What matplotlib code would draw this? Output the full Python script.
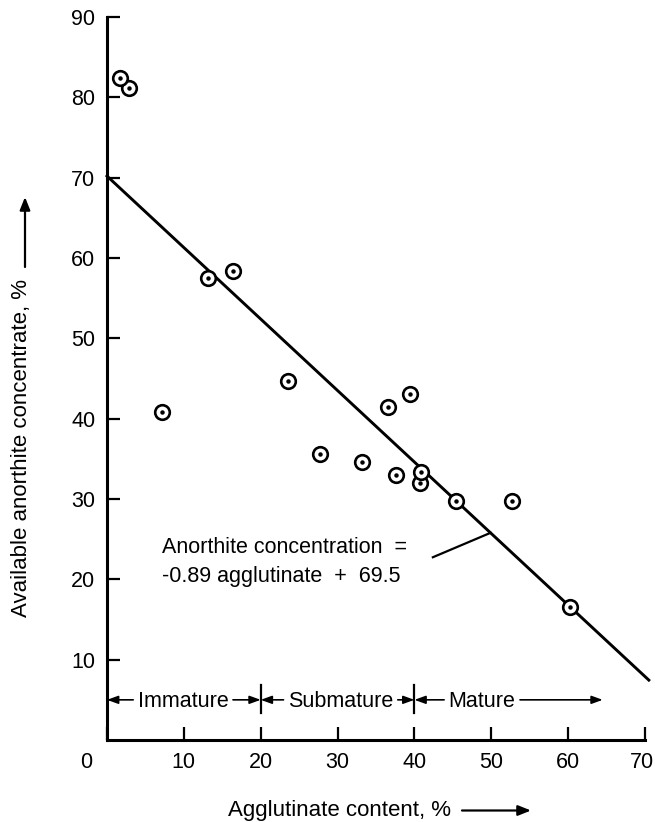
import matplotlib
matplotlib.use("Agg")
import matplotlib.pyplot as plt
from matplotlib.transforms import ScaledTranslation

plt.rcParams['font.family'] = ['Liberation Sans', 'DejaVu Sans']

# samples
agglutinate = [2.8, 1.7, 13.2, 16.4, 7.2, 23.6, 27.7, 33.2, 36.6, 39.4, 37.6, 40.7, 40.8, 45.4, 52.7, 60.2]
anorthite = [81.2, 82.4, 57.5, 58.4, 40.8, 44.7, 35.6, 34.6, 41.4, 43.1, 33.0, 32.0, 33.3, 29.8, 29.7, 16.5]

# regression line as drawn
fit_slope = -0.89
fit_intercept = 70.2
fit_range = [0, 70.5]

x_ticks = [0, 10, 20, 30, 40, 50, 60, 70]
y_ticks = [10, 20, 30, 40, 50, 60, 70, 80, 90]

stage_names = ['Immature', 'Submature', 'Mature']
stage_bounds = [(0, 20), (20, 40), (40, 64.5)]
stage_label_x = [9.9, 30.4, 48.8]

eq_lines = ['Anorthite concentration  =', '-0.89 agglutinate  +  69.5']

FS = 15.5
W, H = 655, 822
fig = plt.figure(figsize=(W / 100, H / 100), dpi=100)
ax = fig.add_axes([107 / W, 1 - 740 / H, (645 - 107) / W, (740 - 17) / H])

ax.set_xlim(0, 70)
ax.set_ylim(0, 90)
for s in ['top', 'right']:
    ax.spines[s].set_visible(False)
for s in ['left', 'bottom']:
    ax.spines[s].set_linewidth(2.2)
ax.set_xticks(x_ticks)
ax.set_yticks(y_ticks)
ax.tick_params(direction='in', length=9.5, width=1.6, pad=8.5, labelsize=FS)
xlabels = ax.get_xticklabels()
xlabels[0].set_transform(xlabels[0].get_transform() + ScaledTranslation(-0.21, 0, fig.dpi_scale_trans))
xlabels[-1].set_transform(xlabels[-1].get_transform() + ScaledTranslation(-0.03, 0, fig.dpi_scale_trans))

# regression line
fx = fit_range
fy = [fit_intercept + fit_slope * v for v in fx]
ax.plot(fx, fy, color='black', lw=2.1, clip_on=False, zorder=2)

# points: open circles with a centre dot
for i, (x, y) in enumerate(zip(agglutinate, anorthite)):
    z = 3 + i * 0.01
    ax.plot([x], [y], marker='o', ms=10.5, mfc='white', mec='black', mew=1.9,
            ls='none', clip_on=False, zorder=z)
    ax.plot([x], [y], marker='o', ms=2.2, color='black', ls='none',
            clip_on=False, zorder=z + 0.005)

# equation label and leader
ax.text(7.1, 23.25, eq_lines[0], fontsize=FS, ha='left', va='baseline')
ax.text(7.1, 19.7, eq_lines[1], fontsize=FS, ha='left', va='baseline')
lead_x = [42.4, 49.9]
ax.plot(lead_x, [22.75, fit_intercept + fit_slope * lead_x[1]], color='black', lw=1.6)

# maturity stages
stage_y = 5.0
for b in [20, 40]:
    ax.plot([b, b], [3.3, 6.9], color='black', lw=1.6)

fig.canvas.draw()
r = fig.canvas.get_renderer()
inv = ax.transData.inverted()
gap = 4.5
arrow_kw = dict(arrowstyle='-|>,head_length=0.55,head_width=0.2', mutation_scale=12,
                lw=1.2, color='black', shrinkA=0, shrinkB=0)
for name, (lo, hi), cx in zip(stage_names, stage_bounds, stage_label_x):
    t = ax.text(cx, 4.05, name, fontsize=FS, ha='center', va='baseline')
    bb = t.get_window_extent(r)
    left = inv.transform((bb.x0 - gap, 0))[0]
    right = inv.transform((bb.x1 + gap, 0))[0]
    ax.annotate('', xy=(lo, stage_y), xytext=(left, stage_y), arrowprops=arrow_kw,
                annotation_clip=False)
    ax.annotate('', xy=(hi, stage_y), xytext=(right, stage_y), arrowprops=arrow_kw,
                annotation_clip=False)

# axis labels with arrows
lab_kw = dict(arrowstyle='-|>,head_length=0.55,head_width=0.22', mutation_scale=14,
              lw=1.6, color='black', shrinkA=0, shrinkB=0)
xl = fig.text(228 / W, 1 - 816 / H, 'Agglutinate content, %', fontsize=FS + 0.5,
              ha='left', va='baseline')
bb = xl.get_window_extent(r)
fig.add_artist(plt.matplotlib.patches.FancyArrowPatch(
    (bb.x1 + 11, H - 810.5), (bb.x1 + 80, H - 810.5), transform=None, **lab_kw))

yl = fig.text(21.5 / W, 1 - 617 / H, 'Available anorthite concentrate, %', fontsize=FS + 0.5,
              rotation=90, ha='center', va='bottom')
bb = yl.get_window_extent(r)
fig.add_artist(plt.matplotlib.patches.FancyArrowPatch(
    (25, bb.y1 + 12), (25, H - 197), transform=None, **lab_kw))

fig.savefig('out.png', dpi=100)
